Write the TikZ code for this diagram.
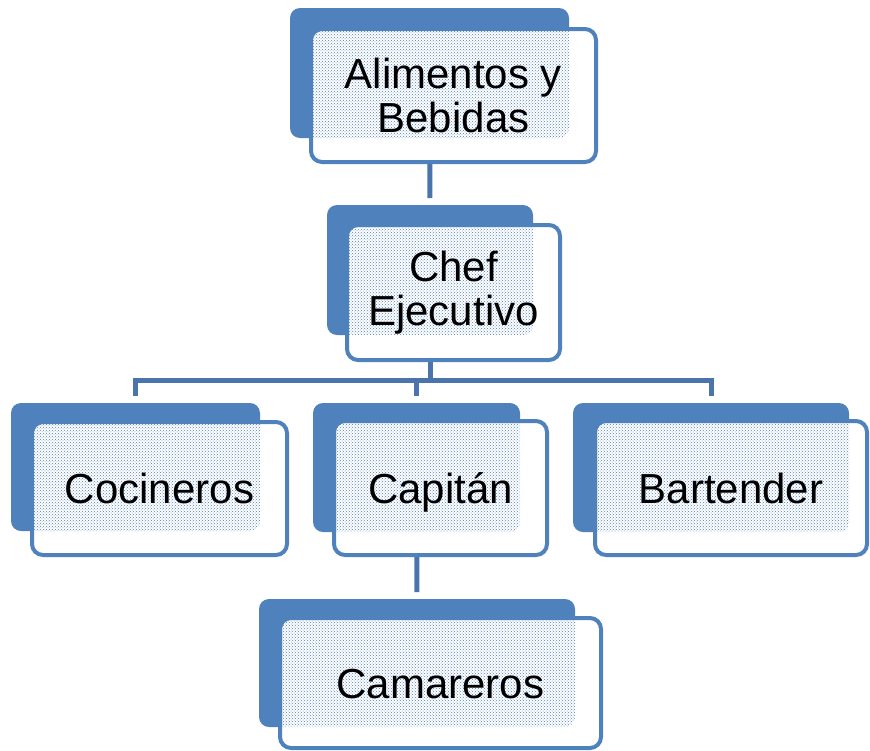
\documentclass[tikz,border=0pt]{standalone}
\usepackage{fontspec}
\setmainfont{Liberation Sans}
\usetikzlibrary{patterns}
\definecolor{boxblue}{HTML}{4F81BD}
\definecolor{lineblue}{HTML}{4A74AB}
\tikzset{
  backbox/.style={fill=boxblue, draw=none, rounded corners=10pt, inner sep=0pt, outer sep=0pt},
  frontbox/.style={fill=white, draw=boxblue, line width=4pt, rounded corners=11pt,
    inner sep=0pt, outer sep=0pt, align=center, font=\fontsize{42}{44}\selectfont,
    path picture={\fill[pattern=crosshatch dots, pattern color=boxblue, rounded corners=10pt]
      (#1.north west) rectangle (#1.south east);}},
  oneline/.style={text height=30pt, text depth=0pt},
  conn/.style={draw=lineblue, line width=5pt},
}
\begin{document}
\begin{tikzpicture}[x=1pt,y=-1pt]
\useasboundingbox (0,0) rectangle (870,750);
% back boxes
\node[backbox, minimum width=279pt, minimum height=130pt] (alimB) at (429.5,73) {};
\node[backbox, minimum width=206pt, minimum height=130pt] (chefB) at (430,270) {};
\node[backbox, minimum width=249pt, minimum height=128pt] (cocB) at (135.5,467) {};
\node[backbox, minimum width=207pt, minimum height=129pt] (capB) at (416.5,467.5) {};
\node[backbox, minimum width=276pt, minimum height=129pt] (barB) at (711,467.5) {};
\node[backbox, minimum width=316pt, minimum height=128pt] (camB) at (417,663) {};
% connectors
\coordinate (bus) at (430,380);
\draw[conn, shorten >=7pt] (alimB.center) -- (chefB.north);
\draw[conn, shorten >=7pt] (chefB.center) -- (bus) -| (cocB.north);
\draw[conn, shorten >=7pt] (chefB.center) -- (bus) -| (capB.north);
\draw[conn, shorten >=7pt] (chefB.center) -- (bus) -| (barB.north);
\draw[conn, shorten >=7pt] (capB.center) -- (camB.north);
% front boxes
\node[frontbox=alimB, minimum width=285pt, minimum height=133pt] (alim) at (453.5,95.5) {Alimentos y\\Bebidas};
\node[frontbox=chefB, minimum width=213pt, minimum height=135pt] (chef) at (453.5,292.5) {Chef\\Ejecutivo};
\node[frontbox=cocB, oneline, minimum width=255pt, minimum height=133pt] (coc) at (159.5,488.5) {Cocineros};
\node[frontbox=capB, oneline, minimum width=213pt, minimum height=134pt] (cap) at (440.5,488) {Capitán};
\node[frontbox=barB, oneline, minimum width=272pt, minimum height=134pt] (bar) at (731,488) {Bartender};
\node[frontbox=camB, oneline, minimum width=321pt, minimum height=130pt] (cam) at (440.5,683) {Camareros};
\end{tikzpicture}
\end{document}
